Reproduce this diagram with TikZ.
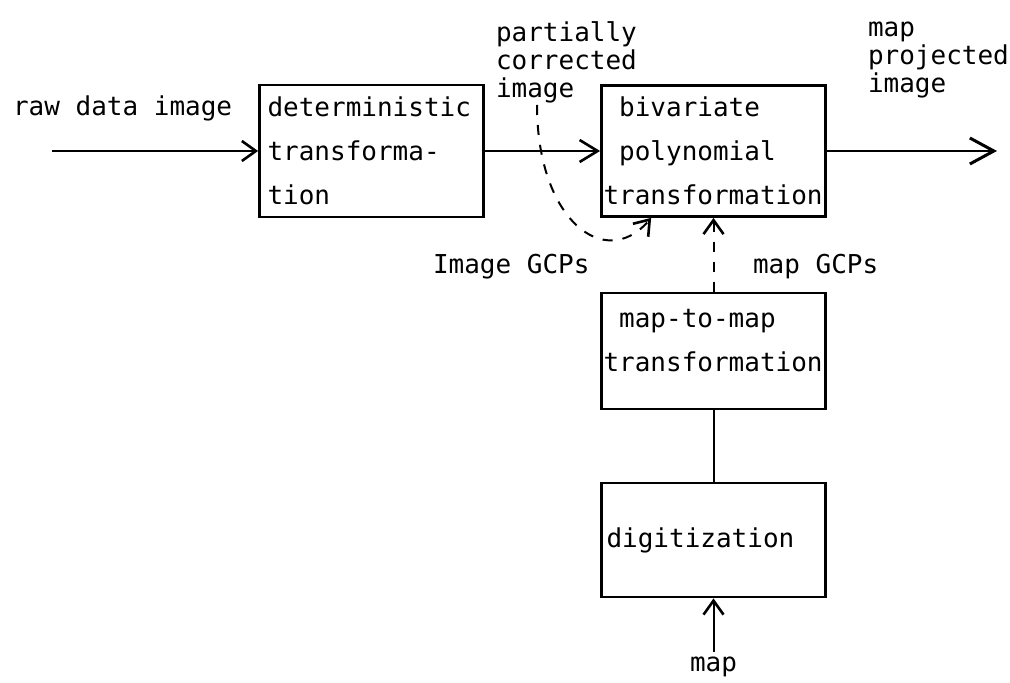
\documentclass[tikz,border=0pt]{standalone}
\usepackage{fontspec}
\setmonofont{DejaVu Sans Mono}
\usepackage{tikz}
\usetikzlibrary{arrows.meta,positioning}

\begin{document}
\begin{tikzpicture}
          [x=0.5pt,y=-0.5pt,line width=1pt,
           font=\ttfamily\fontsize{13}{22}\selectfont]
          \tikzstyle{block}=[draw=black,line width=1.4pt,text width=110pt,align=left,inner xsep=1pt,inner ysep=0pt]
          \tikzstyle{lbl}=[inner sep=0pt,align=left,font=\ttfamily\fontsize{13}{14}\selectfont]
          \tikzstyle{arr}=[-{Straight Barb[length=7pt,width=10pt,line width=1.3pt]}]
          \tikzstyle{gcp}=[dash pattern=on 5pt off 5pt]

          \useasboundingbox (0,0) rectangle (1010,683);

          \node[block,minimum height=66pt] (det) at (371.5,151) {\hspace{3pt}deterministic\\\hspace{3pt}transforma-\\\hspace{3pt}tion};
          \node[block,minimum height=65.5pt] (poly) [right of=det,node distance=171pt] {\hphantom{x}bivariate\\\hphantom{x}polynomial\\transformation};
          \node[block,minimum height=58pt] (m2m) [below of=poly,node distance=100pt] {\hphantom{x}map-to-map\\transformation\rule[-11pt]{0pt}{11pt}};
          \node[block,minimum height=57pt] (digit) [below of=m2m,node distance=94.5pt] {\hspace{1.5pt}digitization};

          \node[lbl,anchor=west] (raw) at (12,108) {raw data image};
          \node[lbl,anchor=north west] (pci) at (495,21) {partially\\corrected\\image};
          \node[lbl,anchor=north west] (mpi) at (867,21) {map\\projected\\image};
          \node[lbl,anchor=west] (igcp) at (432,267) {Image GCPs};
          \node[lbl,anchor=west] (mgcp) at (752,267) {map GCPs};
          \node[lbl,anchor=north] (maplbl) at (713.5,656) {map};

          \coordinate (rawin) at (52,151);
          \coordinate (out) at (997,151);
          \coordinate (pcitick) at (537,105);

          \draw[arr] (rawin) -- (det);
          \draw[arr,-{Straight Barb[length=9pt,width=11pt,line width=1.3pt]}] (det) -- (poly);
          \draw[arr,-{Straight Barb[length=12pt,width=13pt,line width=1.5pt]}] (poly) -- (out);
          \draw[arr,gcp] (pcitick) .. controls (537,220) and (605,272) .. (poly.-133);
          \draw[arr,gcp] (m2m) -- (poly);
          \draw (m2m) -- (digit);
          \draw[arr,shorten <=2pt] (maplbl) -- (digit);
        \end{tikzpicture}
\end{document}
